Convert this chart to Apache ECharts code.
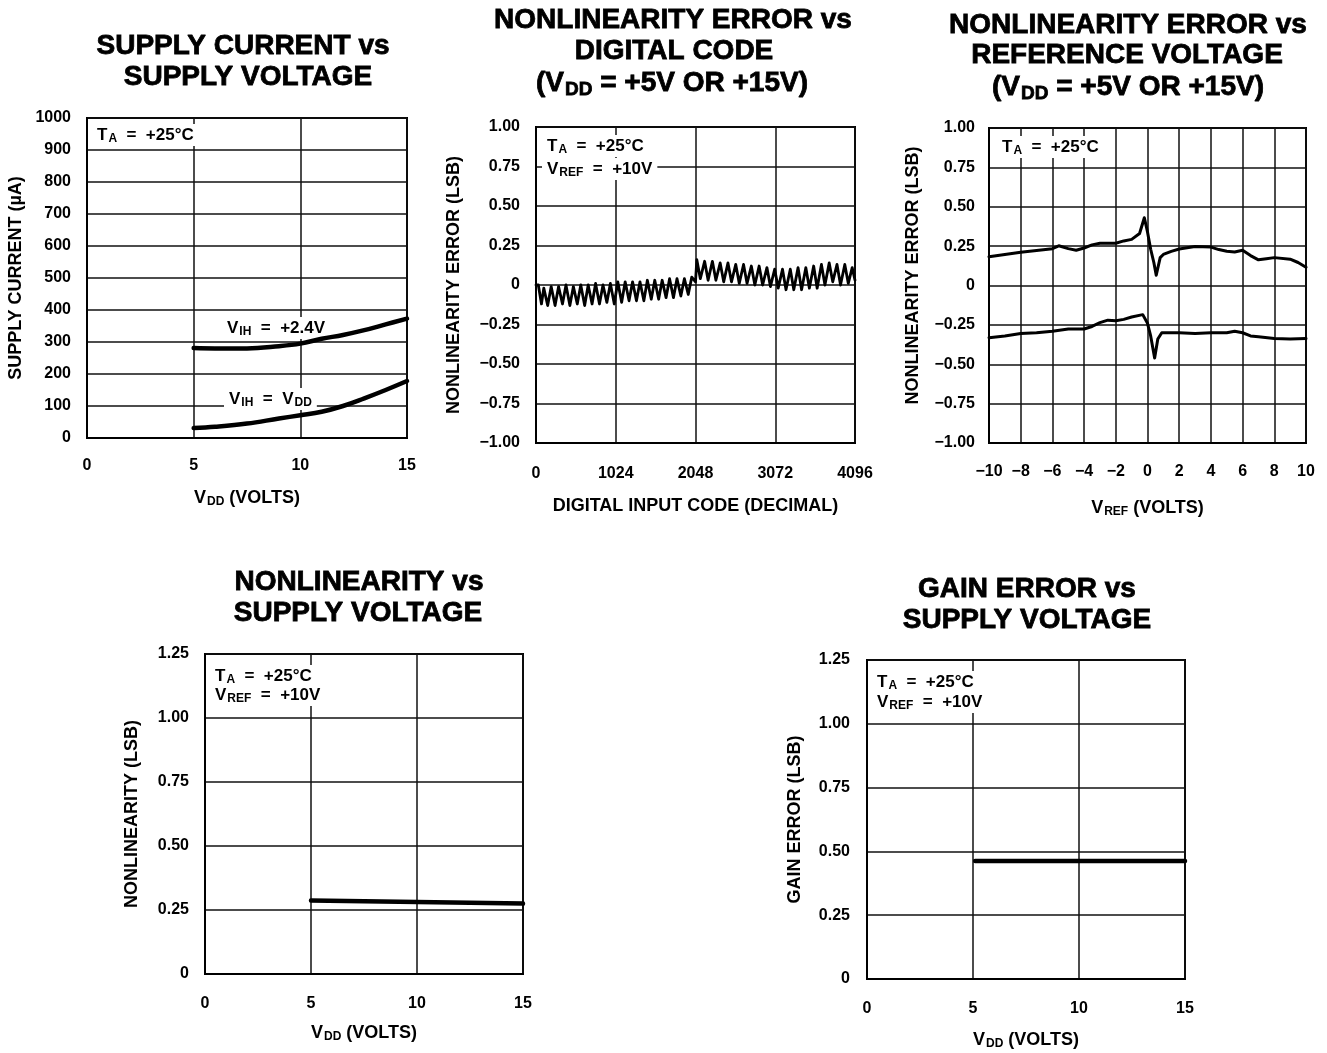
<!DOCTYPE html>
<html><head><meta charset="utf-8">
<script src="https://cdn.jsdelivr.net/npm/echarts@6/dist/echarts.min.js"></script>
<style>html,body{margin:0;padding:0;background:#fff}#c{width:1327px;height:1053px}</style>
</head><body><div id="c"></div>
<script>
// ---------- DATA ----------
// Panel 1: supply current vs supply voltage
const scVdd  = [5, 6, 7.5, 9, 10, 11, 12, 13, 14, 15];
const scHigh = [281, 280, 280, 287, 295, 310, 322, 337, 355, 373]; // VIH = +2.4V
const scLow  = [31, 35, 45, 61, 71, 82, 100, 124, 150, 178];        // VIH = VDD
const scXTicks = [0, 5, 10, 15];

// Panel 2: nonlinearity error vs digital code
const nlCodes = [0, 30, 70, 100, 150, 195, 245, 290, 340, 385, 435, 480, 530, 575, 625, 670, 720, 765, 815, 860,
  910, 955, 1005, 1050, 1100, 1145, 1195, 1240, 1290, 1335, 1385, 1430, 1480, 1525, 1575, 1620, 1670, 1715,
  1765, 1810, 1860, 1905, 1955, 2000, 2048,
  2065, 2110, 2165, 2210, 2265, 2310, 2365, 2410, 2465, 2510, 2565, 2610, 2665, 2710, 2765, 2810, 2865, 2910,
  2965, 3010, 3065, 3110, 3165, 3210, 3265, 3310, 3365, 3410, 3465, 3510, 3565, 3610, 3665, 3710, 3765, 3810,
  3865, 3910, 3965, 4010, 4060, 4096];
const nlErr = [0.00, 0.00, -0.12, -0.02, -0.13, -0.01, -0.13, -0.01, -0.12, 0.00, -0.13, -0.01, -0.12, 0.00, -0.13, 0.00, -0.12, 0.01, -0.12, 0.00,
  -0.11, 0.01, -0.12, 0.02, -0.11, 0.02, -0.10, 0.02, -0.10, 0.02, -0.10, 0.03, -0.09, 0.03, -0.09, 0.03, -0.08, 0.04,
  -0.08, 0.04, -0.07, 0.04, -0.06, 0.05, 0.02,
  0.16, 0.04, 0.15, 0.03, 0.15, 0.03, 0.14, 0.02, 0.14, 0.02, 0.13, 0.01, 0.13, 0.01, 0.12, 0.00, 0.12, 0.00,
  0.11, -0.01, 0.10, -0.02, 0.10, -0.03, 0.10, -0.03, 0.11, -0.03, 0.11, -0.02, 0.12, -0.02, 0.13, 0.00, 0.14, 0.02,
  0.13, 0.00, 0.13, 0.01, 0.11, 0.03];

// Panel 3: nonlinearity error vs reference voltage
const refUpX = [-10, -9, -8, -7, -6, -5.6, -5, -4.5, -4, -3.5, -3, -2, -1.5, -1, -0.5, -0.2, 0, 0.2, 0.4, 0.55, 0.8, 1, 1.5, 2, 3, 4, 4.5, 5, 5.5, 6, 6.5, 7, 7.5, 8, 9, 9.5, 10];
const refUpY = [0.183, 0.197, 0.211, 0.222, 0.234, 0.252, 0.234, 0.224, 0.238, 0.258, 0.268, 0.268, 0.283, 0.293, 0.33, 0.43, 0.34, 0.23, 0.146, 0.065, 0.177, 0.197, 0.217, 0.232, 0.248, 0.244, 0.228, 0.217, 0.213, 0.224, 0.19, 0.163, 0.17, 0.177, 0.167, 0.146, 0.116];
const refLoX = [-10, -9, -8, -7, -6, -5, -4, -3.5, -3, -2.5, -2, -1.5, -1, -0.3, 0, 0.2, 0.45, 0.65, 0.9, 2, 3, 4, 5, 5.5, 6, 6.5, 7, 8, 9, 10];
const refLoY = [-0.331, -0.321, -0.305, -0.30, -0.29, -0.276, -0.276, -0.26, -0.236, -0.22, -0.224, -0.215, -0.2, -0.185, -0.24, -0.32, -0.46, -0.34, -0.30, -0.30, -0.305, -0.30, -0.30, -0.29, -0.30, -0.32, -0.325, -0.337, -0.34, -0.337];

// Panel 4: nonlinearity vs supply voltage
const nlsVdd = [5, 10, 15];
const nlsVal = [0.287, 0.281, 0.275];

// Panel 5: gain error vs supply voltage
const geVdd = [5.1, 10, 15];
const geVal = [0.462, 0.462, 0.462];

// ---------- STYLE / LAYOUT ----------
const F = '"Liberation Sans", Arial, Helvetica, sans-serif';
const chart = echarts.init(document.getElementById('c'), null, {renderer: 'canvas'});

function optRich(size, sub) {
  return {
    n: {fontFamily: F, fontWeight: 'bold', fontSize: size, color: '#000'},
    s: {fontFamily: F, fontWeight: 'bold', fontSize: sub, color: '#000', padding: [Math.round(sub * 0.7), 0, 0, 1]}
  };
}
function txt(x, y, text, size, sub, align, bg, heavy) {
  sub = sub || Math.round(size * 0.7);
  const extra = heavy ? {stroke: '#000', lineWidth: 0.8} : {};
  return {
    type: 'text', x: x, y: y, z: 1, silent: true,
    style: Object.assign({
      text: text, align: align || 'center', verticalAlign: 'middle',
      fontFamily: F, fontWeight: 'bold', fontSize: size, fill: '#000',
      backgroundColor: bg ? '#fff' : 'transparent', padding: bg ? [1, 5, 1, 5] : 0,
      rich: {
        n: Object.assign({fontFamily: F, fontWeight: 'bold', fontSize: size, fill: '#000'}, extra),
        s: Object.assign({fontFamily: F, fontWeight: 'bold', fontSize: sub, fill: '#000', padding: [Math.round(sub * 0.7), 0, 0, 1]}, extra)
      }
    }, extra)
  };
}
const numFmt = d => v => {
  if (Math.abs(v) < 1e-9) return '0';
  const s = d ? Math.abs(v).toFixed(d) : String(Math.abs(v));
  return (v < 0 ? '\u2212' : '') + s;
};
const splitLine = {show: true, lineStyle: {color: '#111', width: 1.5}};
const axisLine = {show: true, onZero: false, lineStyle: {color: '#000', width: 2}};
const lbl = (margin, fmt) => ({color: '#000', fontFamily: F, fontWeight: 'bold', fontSize: 16, margin: margin, formatter: fmt});
function xAx(gi, min, max, interval, name, gap, margin, fmt) {
  return {type: 'value', gridIndex: gi, min: min, max: max, interval: interval,
    name: name, nameLocation: 'middle', nameGap: gap,
    nameTextStyle: {fontFamily: F, fontWeight: 'bold', fontSize: 18, color: '#000', rich: optRich(18, 12)},
    axisLine: axisLine, axisTick: {show: false}, splitLine: splitLine, axisLabel: lbl(margin, fmt || numFmt(0))};
}
function yAx(gi, min, max, interval, name, gap, margin, fmt, pad) {
  return {type: 'value', gridIndex: gi, min: min, max: max, interval: interval,
    name: name, nameLocation: 'middle', nameGap: gap,
    nameTextStyle: {fontFamily: F, fontWeight: 'bold', fontSize: 18, color: '#000', padding: pad || 0},
    axisLine: axisLine, axisTick: {show: false}, splitLine: splitLine, axisLabel: lbl(margin, fmt || numFmt(0))};
}
const gridBase = {show: true, borderColor: '#000', borderWidth: 2, backgroundColor: 'transparent', containLabel: false, outerBoundsMode: 'none'};
const pairs = (xs, ys) => xs.map((x, i) => [x, ys[i]]);
const lineS = (gi, data, w, smooth) => ({type: 'line', xAxisIndex: gi, yAxisIndex: gi, data: data, symbol: 'none',
  smooth: smooth || false, silent: true, z: 3,
  lineStyle: {color: '#000', width: w, join: 'round', cap: 'round'}});

const option = {
  backgroundColor: '#fff',
  animation: false,
  grid: [
    Object.assign({left: 87, top: 118, width: 320, height: 320}, gridBase),
    Object.assign({left: 536, top: 127, width: 319, height: 316}, gridBase),
    Object.assign({left: 989, top: 128, width: 317, height: 315}, gridBase),
    Object.assign({left: 205, top: 654, width: 318, height: 320}, gridBase),
    Object.assign({left: 867, top: 660, width: 318, height: 319}, gridBase)
  ],
  xAxis: [
    xAx(0, scXTicks[0], scXTicks[scXTicks.length - 1], 5, '{n|V}{s|DD}{n| (VOLTS)}', 50, 20),
    xAx(1, 0, 4096, 1024, 'DIGITAL INPUT CODE (DECIMAL)', 54, 23),
    xAx(2, -10, 10, 2, '{n|V}{s|REF}{n| (VOLTS)}', 55, 21),
    xAx(3, 0, 15, 5, '{n|V}{s|DD}{n| (VOLTS)}', 49, 22),
    xAx(4, 0, 15, 5, '{n|V}{s|DD}{n| (VOLTS)}', 51, 22)
  ],
  yAxis: [
    yAx(0, 0, 1000, 100, 'SUPPLY CURRENT (\u00b5A)', 62, 16),
    yAx(1, -1, 1, 0.25, 'NONLINEARITY ERROR (LSB)', 73, 16, numFmt(2)),
    yAx(2, -1, 1, 0.25, 'NONLINEARITY ERROR (LSB)', 67, 14, numFmt(2), [0, 0, 0, 20]),
    yAx(3, 0, 1.25, 0.25, 'NONLINEARITY (LSB)', 64, 16, numFmt(2)),
    yAx(4, 0, 1.25, 0.25, 'GAIN ERROR (LSB)', 63, 17, numFmt(2))
  ],
  series: [
    lineS(0, pairs(scVdd, scHigh), 4.5, 0.4),
    lineS(0, pairs(scVdd, scLow), 4.5, 0.4),
    lineS(1, pairs(nlCodes, nlErr), 2.8),
    lineS(2, pairs(refUpX, refUpY), 3),
    lineS(2, pairs(refLoX, refLoY), 3),
    lineS(3, pairs(nlsVdd, nlsVal), 4.5),
    lineS(4, pairs(geVdd, geVal), 4.5)
  ],
  graphic: [
    // titles
    txt(243, 46, 'SUPPLY CURRENT vs', 28, 0, 'center', false, true),
    txt(248, 77, 'SUPPLY VOLTAGE', 28, 0, 'center', false, true),
    txt(673, 20, 'NONLINEARITY ERROR vs', 28, 0, 'center', false, true),
    txt(674, 51, 'DIGITAL CODE', 28, 0, 'center', false, true),
    txt(672, 83, '{n|(V}{s|DD}{n| = +5V OR +15V)}', 28, 19, 'center', false, true),
    txt(1128, 25, 'NONLINEARITY ERROR vs', 28, 0, 'center', false, true),
    txt(1127, 55, 'REFERENCE VOLTAGE', 28, 0, 'center', false, true),
    txt(1128, 87, '{n|(V}{s|DD}{n| = +5V OR +15V)}', 28, 19, 'center', false, true),
    txt(359, 582, 'NONLINEARITY vs', 28, 0, 'center', false, true),
    txt(358, 613, 'SUPPLY VOLTAGE', 28, 0, 'center', false, true),
    txt(1027, 589, 'GAIN ERROR vs', 28, 0, 'center', false, true),
    txt(1027, 620, 'SUPPLY VOLTAGE', 28, 0, 'center', false, true),
    // annotations
    txt(92, 135, '{n|T}{s|A}{n|  =  +25\u00b0C}', 17, 12, 'left', true),
    txt(222, 328, '{n|V}{s|IH}{n|  =  +2.4V}', 17, 12, 'left', true),
    txt(224, 399, '{n|V}{s|IH}{n|  =  V}{s|DD}', 17, 12, 'left', true),
    txt(542, 146, '{n|T}{s|A}{n|  =  +25\u00b0C}', 17, 12, 'left', true),
    txt(542, 169, '{n|V}{s|REF}{n|  =  +10V}', 17, 12, 'left', true),
    txt(997, 147, '{n|T}{s|A}{n|  =  +25\u00b0C}', 17, 12, 'left', true),
    txt(210, 676, '{n|T}{s|A}{n|  =  +25\u00b0C}', 17, 12, 'left', true),
    txt(210, 695, '{n|V}{s|REF}{n|  =  +10V}', 17, 12, 'left', true),
    txt(872, 682, '{n|T}{s|A}{n|  =  +25\u00b0C}', 17, 12, 'left', true),
    txt(872, 702, '{n|V}{s|REF}{n|  =  +10V}', 17, 12, 'left', true)
  ]
};
chart.setOption(option);
</script>
</body></html>
